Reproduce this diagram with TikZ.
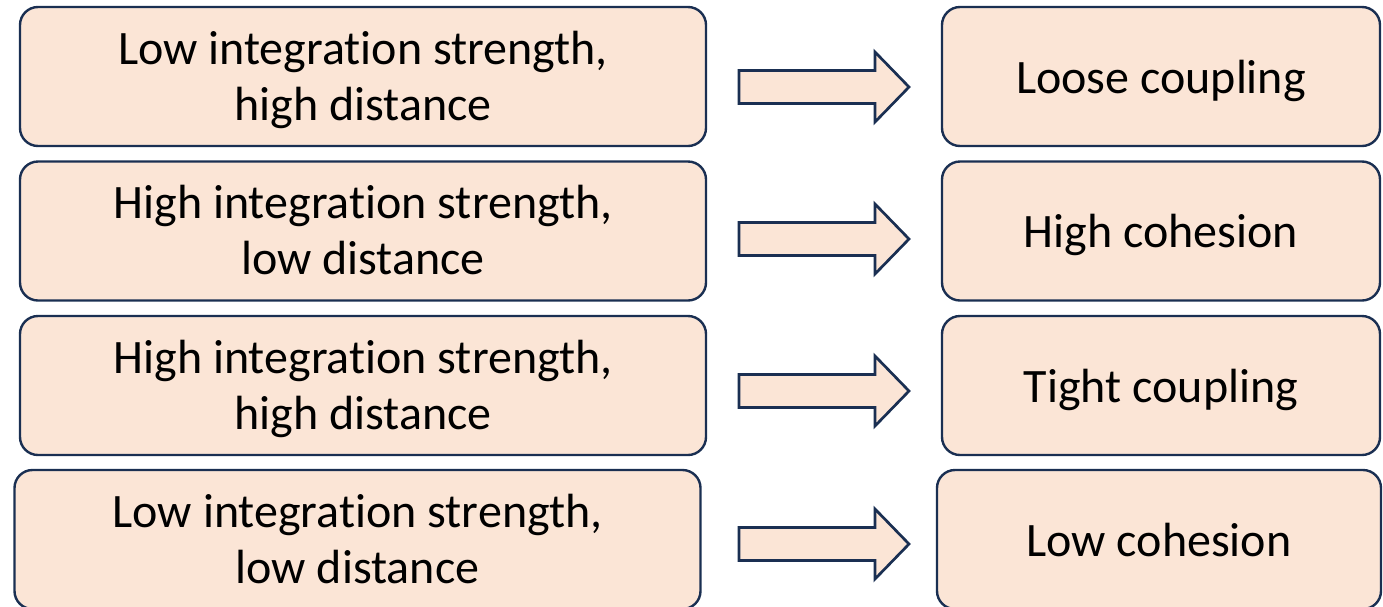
\documentclass[tikz,border=0pt]{standalone}
\usepackage{fontspec}
\setmainfont{Carlito}[Ligatures=NoCommon]
\definecolor{boxfill}{HTML}{FBE5D6}
\definecolor{boxline}{HTML}{1A2F52}
\begin{document}
\begin{tikzpicture}[x=1pt,y=-1pt,
  card/.style={draw=boxline, fill=boxfill, line width=2.4pt, rounded corners=18pt,
    inner sep=0pt, align=center, font=\fontsize{48}{56}\selectfont},
  leftcard/.style={card, minimum width=686pt, minimum height=139pt,
    text height=87pt, text depth=0pt},
  rightcard/.style={card, minimum width=438pt, minimum height=139pt,
    text height=33pt, text depth=0pt},
  blockarrow/.style={draw=boxline, fill=boxfill, line width=2.7pt, line join=miter}]
\useasboundingbox (0,0) rectangle (1383,606);
% left column: integration strength and distance
\node[leftcard] (l1) at (363,76.5) {Low integration strength,\\high distance};
\node[leftcard] (l2) at (363,231) {High integration strength,\\low distance};
\node[leftcard] (l3) at (363,385.5) {High integration strength,\\high distance};
\node[leftcard] (l4) at (357.5,539.5) {Low integration strength,\\low distance};
% right column: resulting property
\node[rightcard] (r1) at (1161,76.5) {Loose coupling};
\node[rightcard] (r2) at (1161,231) {High cohesion};
\node[rightcard] (r3) at (1161,385.5) {Tight coupling};
\node[rightcard, minimum width=444pt] (r4) at (1159,539.5) {Low cohesion};
% block arrows between the columns, drawn around their centre points
\coordinate (a1) at (824,87);
\coordinate (a2) at (824,239);
\coordinate (a3) at (824,391);
\coordinate (a4) at (824,544);
\foreach \a in {a1,a2,a3,a4}{
  \draw[blockarrow] ([shift={(-85,-16.5)}]\a) -- ([shift={(51,-16.5)}]\a)
    -- ([shift={(51,-35)}]\a) -- ([shift={(85,0)}]\a) -- ([shift={(51,35)}]\a)
    -- ([shift={(51,16.5)}]\a) -- ([shift={(-85,16.5)}]\a) -- cycle;
}
\end{tikzpicture}
\end{document}
